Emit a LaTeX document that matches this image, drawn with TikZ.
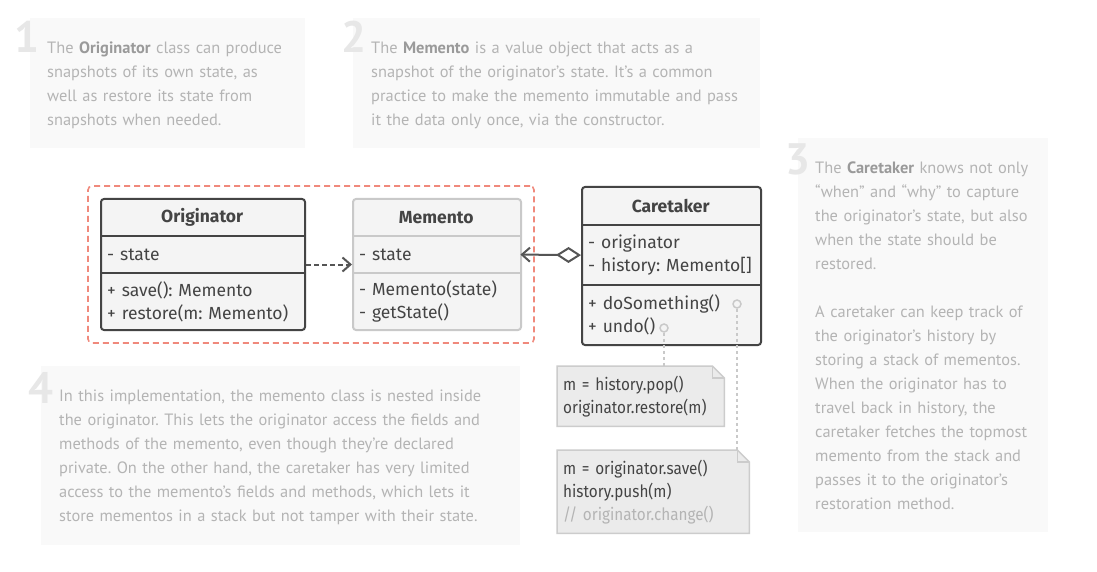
\documentclass[tikz,border=0pt]{standalone}
\usepackage{fontspec}
\setmainfont{PT Sans}
\newfontfamily\umlfont{Fira Sans}
\newfontfamily\notefont{Fira Sans}[FakeStretch=0.9]
\usetikzlibrary{positioning, fit, arrows.meta, backgrounds}
\definecolor{umldark}{HTML}{444444}
\definecolor{umllight}{HTML}{C9C9C9}
\definecolor{boxfill}{HTML}{F4F4F4}
\definecolor{notefill}{HTML}{EBEBEB}
\definecolor{noteline}{HTML}{CCCCCC}
\definecolor{descfill}{HTML}{F9F9F9}
\definecolor{desctext}{HTML}{B4B4B4}
\definecolor{descbold}{HTML}{9A9A9A}
\definecolor{numcol}{HTML}{E7E7E7}
\definecolor{groupred}{HTML}{F0897C}
\definecolor{linkcol}{HTML}{555555}
\tikzset{
  descbox/.style={fill=descfill, anchor=north west, inner sep=0pt},
  descnum/.style={anchor=base west, inner sep=0pt, text=numcol, font=\fontsize{44}{44}\selectfont\bfseries},
  desctxt/.style={anchor=base west, inner sep=0pt, text width=#1, align=left, text=desctext,
    font=\fontsize{16.4}{24}\selectfont},
  classframe/.style={draw=#1, fill=boxfill, line width=2pt, rounded corners=3pt, anchor=north west, inner sep=0pt},
  classhead/.style={anchor=north west, inner xsep=7pt, inner ysep=0pt, align=center, text=umldark,
    font=\umlfont\fontsize{17.5}{23}\selectfont\bfseries},
  classpart/.style={anchor=north west, inner xsep=7pt, inner ysep=0pt, align=left, text=umldark,
    font=\umlfont\fontsize{17.5}{23}\selectfont},
  notebox/.style={anchor=north west, inner xsep=6pt, inner ysep=0pt, align=left, text=umldark,
    font=\notefont\fontsize{17}{23}\selectfont},
  port/.style={circle, draw=umllight, line width=1.5pt, inner sep=0pt, minimum size=8pt},
  dotline/.style={umllight, line width=1.5pt, dash pattern=on 3pt off 3pt},
  depend/.style={linkcol, line width=2pt, dash pattern=on 5pt off 3pt, -{Straight Barb[length=8pt, width=14pt]}},
  aggreg/.style={linkcol, line width=2pt, {Diamond[open, fill=white, length=25pt, width=16pt]}-{Straight Barb[length=8pt, width=14pt]}},
  groupbox/.style={draw=groupred, line width=1.6pt, dash pattern=on 6pt off 4pt, rounded corners=4pt, inner sep=12pt}
}
\newcommand{\notepath}[1]{%
  \draw[fill=notefill, draw=noteline, line width=1.5pt]
    (#1.north west) -- ([xshift=-12pt]#1.north east) -- ([yshift=-12pt]#1.north east)
    -- (#1.south east) -- (#1.south west) -- cycle;
  \draw[draw=noteline, line width=1.5pt]
    ([xshift=-12pt]#1.north east) -- ([xshift=-12pt, yshift=-12pt]#1.north east) -- ([yshift=-12pt]#1.north east);
}

\begin{document}
\frenchspacing
\begin{tikzpicture}[x=1pt, y=-1pt]
\begin{scope}[on background layer]
  \fill[white] (0,0) rectangle (1097,572);
\end{scope}
\useasboundingbox (0,0) rectangle (1097,572);

% descriptions
\node[descbox, minimum width=275pt, minimum height=130pt] (box1) at (30,18) {};
\node[descbox, minimum width=407pt, minimum height=130pt] (box2) at (353,18) {};
\node[descbox, minimum width=250pt, minimum height=394pt] (box3) at (798,138) {};
\node[descbox, minimum width=479pt, minimum height=179pt] (box4) at (41,366) {};

\node[descnum] (num1) at (14,53) {1};
\node[descnum] (num2) at (341,53) {2};
\node[descnum] (num3) at (785,175) {3};
\node[descnum] (num4) at (28,403) {4};

\node[desctxt=250pt] (desc1) at (47,53.5) {The \textbf{\color{descbold}Originator} class can produce\\
  snapshots of its own state, as\\
  well as restore its state from\\
  snapshots when needed.};
\node[desctxt=385pt] (desc2) at (371,53.5) {The \textbf{\color{descbold}Memento} is a value object that acts as a\\
  snapshot of the originator’s state. It’s a common\\
  practice to make the memento immutable and pass\\
  it the data only once, via the constructor.};
\node[desctxt=230pt] (desc3) at (815,173.5) {The \textbf{\color{descbold}Caretaker} knows not only\\
  “when” and “why” to capture\\
  the originator’s state, but also\\
  when the state should be\\
  restored.\\[24pt]
  A caretaker can keep track of\\
  the originator’s history by\\
  storing a stack of mementos.\\
  When the originator has to\\
  travel back in history, the\\
  caretaker fetches the topmost\\
  memento from the stack and\\
  passes it to the originator’s\\
  restoration method.};
\node[desctxt=455pt] (desc4) at (59,401.5) {In this implementation, the memento class is nested inside\\
  the originator. This lets the originator access the fields and\\
  methods of the memento, even though they’re declared\\
  private. On the other hand, the caretaker has very limited\\
  access to the memento’s fields and methods, which lets it\\
  store mementos in a stack but not tamper with their state.};

% classes
\node[classframe=umldark, minimum width=204pt, minimum height=131pt] (orig) at (100,198) {};
\node[classhead, text width=190pt, minimum height=38pt] (orighead) at (orig.north west) {Originator};
\node[classpart, text width=190pt, minimum height=36pt] (origattr) at (orighead.south west) {- state};
\node[classpart, text width=190pt, minimum height=57pt] (origmeth) at (origattr.south west) {+ save(): Memento\\+ restore(m: Memento)};
\draw[umldark, line width=2pt] (origattr.north west) -- (origattr.north east);
\draw[umldark, line width=2pt] (origmeth.north west) -- (origmeth.north east);

\node[classframe=umllight, minimum width=168pt, minimum height=131pt] (mem) at (352,198) {};
\node[classhead, text width=154pt, minimum height=38pt] (memhead) at (mem.north west) {Memento};
\node[classpart, text width=154pt, minimum height=36pt] (memattr) at (memhead.south west) {- state};
\node[classpart, text width=154pt, minimum height=57pt] (memmeth) at (memattr.south west) {- Memento(state)\\- getState()};
\draw[umllight, line width=2pt] (memattr.north west) -- (memattr.north east);
\draw[umllight, line width=2pt] (memmeth.north west) -- (memmeth.north east);

\node[classframe=umldark, minimum width=179pt, minimum height=158pt] (care) at (581,186) {};
\node[classhead, text width=165pt, minimum height=39pt] (carehead) at (care.north west) {Caretaker};
\node[classpart, text width=165pt, minimum height=59pt] (careattr) at (carehead.south west) {- originator\\- history: Memento[]};
\node[classpart, text width=165pt, minimum height=60pt] (caremeth) at (careattr.south west) {+ doSomething()\\+ undo()};
\draw[umldark, line width=2pt] (careattr.north west) -- (careattr.north east);
\draw[umldark, line width=2pt] (caremeth.north west) -- (caremeth.north east);

\node[groupbox, fit=(orig) (mem)] (group) {};

% links
\draw[depend] (orig.east) -- (mem.west);
\draw[aggreg] (careattr.west) -- (memattr.east);

% notes
\node[notebox, text width=155pt, minimum height=60pt] (note1) at (557,366) {m = history.pop()\\originator.restore(m)};
\node[notebox, text width=180pt, minimum height=83pt] (note2) at (557,450) {m = originator.save()\\history.push(m)\\\textcolor{desctext}{// originator.change()}};
\begin{scope}[on background layer]
  \notepath{note1}
  \notepath{note2}
\end{scope}

\node[port] (undoport) at (664,328) {};
\node[port] (saveport) at (737,304) {};
\draw[dotline] (undoport) -- (undoport |- note1.north);
\draw[dotline] (saveport) -- (saveport |- note2.north);
\end{tikzpicture}
\end{document}
